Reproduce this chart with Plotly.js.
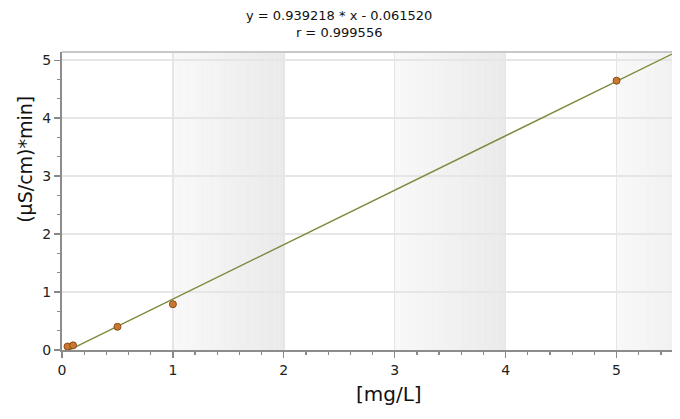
<!DOCTYPE html>
<html>
<head>
<meta charset="utf-8">
<script src="https://cdn.plot.ly/plotly-3.0.1.min.js"></script>
<style>html,body{margin:0;padding:0;background:#fff;}#chart{width:680px;height:419px;}</style>
</head>
<body>
<div id="chart"></div>
<script>
// Calibration data
const concentrations = [0.05, 0.1, 0.5, 1, 5];
const areas = [0.06, 0.08, 0.40, 0.79, 4.645];
// Fit coefficients shown in the title
const slope = 0.939218;
const intercept = -0.061520;
const rValue = 0.999556;
const xTicks = [0, 1, 2, 3, 4, 5];
const yTicks = [0, 1, 2, 3, 4, 5];
const xMax = 5.5;
const yMax = 5.14;
const bandStarts = [1, 3, 5];

const fitX = [Math.min(...concentrations), xMax];
const fitY = fitX.map(x => slope * x + intercept);

const plotTop = 52, plotBottom = 350.5, plotH = plotBottom - plotTop;
const plotLeft = 62, plotW = 610;

// Gradient bands as strips below the grid
const shapes = [];
const steps = 24;
bandStarts.forEach(b => {
  const end = Math.min(b + 1, xMax);
  for (let i = 0; i < steps; i++) {
    const x0 = b + i / steps;
    if (x0 >= end) break;
    const x1 = Math.min(b + (i + 1) / steps, end);
    const t = i / (steps - 1);
    const c = Math.round(248 - t * 14);
    shapes.push({type: 'rect', xref: 'x', yref: 'paper', x0: x0, x1: x1 + 0.002, y0: 0, y1: 1,
      fillcolor: `rgb(${c},${c},${c})`, line: {width: 0}, layer: 'below'});
  }
});
// top frame line
shapes.push({type: 'line', xref: 'paper', yref: 'paper', x0: 0, x1: 1, y0: 1, y1: 1,
  line: {color: '#c8c8c8', width: 2}, layer: 'above'});

const traces = [
  {x: fitX, y: fitY, mode: 'lines', type: 'scatter',
   line: {color: '#7b8b3c', width: 1.4}, hoverinfo: 'skip'},
  {x: concentrations, y: areas, mode: 'markers', type: 'scatter',
   marker: {color: '#c8782f', size: 7, line: {color: '#8a4a1a', width: 1}}}
];

const fnt = '"DejaVu Sans", Verdana, sans-serif';
const px2paperY = py => (plotBottom - py) / plotH;
const px2paperX = pxv => (pxv - plotLeft) / plotW;

const layout = {
  width: 680, height: 419,
  margin: {l: 62, r: 8, t: 52, b: 68.5, pad: 0},
  paper_bgcolor: '#fff', plot_bgcolor: '#fff',
  showlegend: false,
  font: {family: fnt, size: 14, color: '#222'},
  xaxis: {range: [0, xMax], tickvals: xTicks, ticks: 'outside', ticklen: 6, tickwidth: 1.2, tickcolor: '#888',
    showline: true, linecolor: '#8c8c8c', linewidth: 2, showgrid: true, gridcolor: '#e6e6e6', gridwidth: 1.5,
    zeroline: false, tickfont: {size: 14, color: '#222'},
    minor: {dtick: 0.2, tick0: 0, ticks: 'outside', ticklen: 3, tickcolor: '#888', showgrid: false}},
  yaxis: {range: [0, yMax], tickvals: yTicks, ticks: 'outside', ticklen: 6, tickwidth: 1.2, tickcolor: '#888',
    showline: true, linecolor: '#8c8c8c', linewidth: 2, showgrid: true, gridcolor: '#e6e6e6', gridwidth: 1.5,
    zeroline: false, tickfont: {size: 14, color: '#222'},
    minor: {dtick: 1/3, tick0: 0, ticks: 'outside', ticklen: 3, tickcolor: '#888', showgrid: false}},
  shapes: shapes,
  annotations: [
    {text: 'y = ' + slope.toFixed(6) + ' * x - ' + Math.abs(intercept).toFixed(6) + '<br>r = ' + rValue.toFixed(6),
      xref: 'paper', yref: 'paper', x: px2paperX(339), y: px2paperY(6), xanchor: 'center', yanchor: 'top',
      showarrow: false, align: 'center', font: {family: fnt, size: 13, color: '#111'}},
    {text: '[mg/L]', xref: 'paper', yref: 'paper', x: px2paperX(389), y: px2paperY(395), xanchor: 'center', yanchor: 'middle',
      showarrow: false, font: {family: fnt, size: 20, color: '#111'}},
    {text: '(µS/cm)*min]', xref: 'paper', yref: 'paper', x: px2paperX(25), y: px2paperY(160),
      xanchor: 'center', yanchor: 'middle', textangle: -90, showarrow: false,
      font: {family: fnt, size: 19, color: '#111'}}
  ]
};

Plotly.newPlot('chart', traces, layout, {displayModeBar: false, staticPlot: true});
</script>
</body>
</html>
